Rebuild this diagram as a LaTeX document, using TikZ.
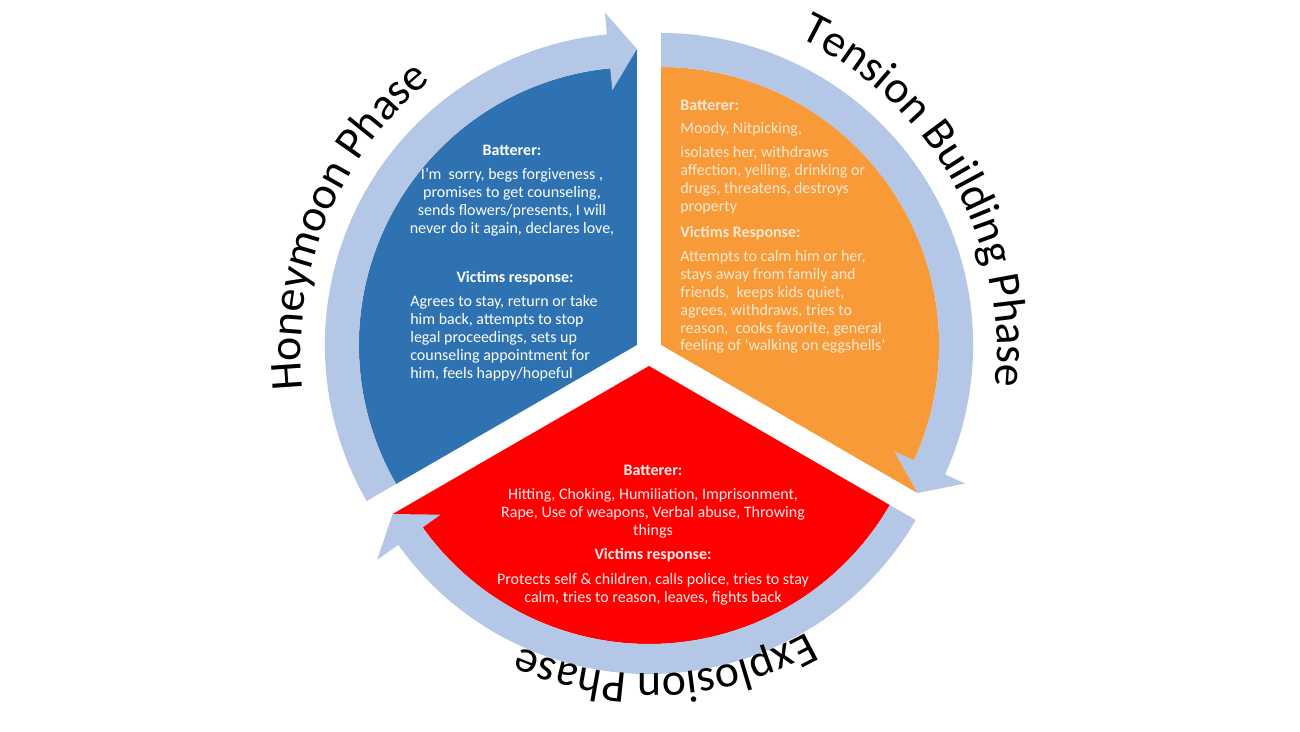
\documentclass[tikz,border=0pt]{standalone}
\usepackage{fontspec}
\setmainfont{Carlito}
\usetikzlibrary{decorations.text}

\definecolor{hmblue}{RGB}{46,114,178}
\definecolor{tborange}{RGB}{248,154,56}
\definecolor{exred}{RGB}{255,0,0}
\definecolor{ringblue}{RGB}{180,199,231}
\definecolor{tbtext}{RGB}{253,232,210}
\definecolor{extext}{RGB}{255,238,238}

\newcommand{\phasefont}{\fontsize{26}{30}\selectfont}

\tikzset{
  body/.style={font=\fontsize{9.1}{10.2}\selectfont, inner sep=0pt},
  head/.style={font=\fontsize{9.1}{10.2}\selectfont\bfseries, inner sep=0pt},
  ring/.style={fill=ringblue},
  phaselabel/.style={decorate, decoration={text along path, text align=center, text={|\phasefont|#1}}}
}

\begin{document}
\begin{tikzpicture}[x=0.02cm, y=0.02cm]
        \useasboundingbox (-649,-379) rectangle (651,352);

        % Honeymoon sector and its arrow
        \begin{scope}[shift={(150:14)}]
            \fill[hmblue] (0,0) -- (210:278) arc[start angle=210, end angle=95.5, radius=278] -- (90:296) -- cycle;
            \fill[ring] (210:278) -- (210:312) arc[start angle=210, end angle=95.5, radius=312] -- (95.5:334) -- (90:296) -- (95.5:256) -- (95.5:278) arc[start angle=95.5, end angle=210, radius=278] -- cycle;
        \end{scope}

        % Tension building sector and its arrow
        \begin{scope}[shift={(30:14)}]
            \fill[tborange] (0,0) -- (90:278) arc[start angle=90, end angle=-24.5, radius=278] -- (-30:296) -- cycle;
            \fill[ring] (90:278) -- (90:312) arc[start angle=90, end angle=-24.5, radius=312] -- (-24.5:334) -- (-30:296) -- (-24.5:256) -- (-24.5:278) arc[start angle=-24.5, end angle=90, radius=278] -- cycle;
        \end{scope}

        % Explosion sector and its arrow
        \begin{scope}[shift={(270:14)}]
            \fill[exred] (0,0) -- (-30:278) arc[start angle=-30, end angle=-144.5, radius=278] -- (-150:296) -- cycle;
            \fill[ring] (-30:278) -- (-30:308) arc[start angle=-30, end angle=-144.5, radius=308] -- (-144.5:334) -- (-150:296) -- (-144.5:256) -- (-144.5:278) arc[start angle=-144.5, end angle=-30, radius=278] -- cycle;
        \end{scope}

        % Texts of the honeymoon phase
        \node[head, white] (hm-bat) at (-137,202) {Batterer:};
        \node[body, white, align=center] (hm-battxt) at (-137,150) {I’m~ sorry, begs forgiveness ,\\ promises to get counseling,\\ sends flowers/presents, I will\\ never do it again, declares love,};
        \node[head, white] (hm-vic) at (-134,74) {Victims response:};
        \node[body, white, align=left, anchor=west] (hm-victxt) at (-239,14) {Agrees to stay, return or take\\ him back, attempts to stop\\ legal proceedings, sets up\\ counseling appointment for\\ him, feels happy/hopeful};

        % Texts of the tension building phase
        \node[head, tbtext, anchor=west] (tb-bat) at (31,247) {Batterer:};
        \node[body, tbtext, anchor=west] (tb-mood) at (31,223) {Moody, Nitpicking,};
        \node[body, tbtext, align=left, anchor=west] (tb-battxt) at (31,172) {isolates her, withdraws\\ affection, yelling, drinking or\\ drugs, threatens, destroys\\ property};
        \node[head, tbtext, anchor=west] (tb-vic) at (31,119) {Victims Response:};
        \node[body, tbtext, align=left, anchor=west] (tb-victxt) at (31,50) {Attempts to calm him or her,\\ stays away from family and\\ friends,~ keeps kids quiet,\\ agrees, withdraws, tries to\\ reason,~ cooks favorite, general\\ feeling of ‘walking on eggshells’};

        % Texts of the explosion phase
        \node[head, extext] (ex-bat) at (4,-118) {Batterer:};
        \node[body, extext, align=center] (ex-battxt) at (4,-161) {Hitting, Choking, Humiliation, Imprisonment,\\ Rape, Use of weapons, Verbal abuse, Throwing\\ things};
        \node[head, extext] (ex-vic) at (4,-203) {Victims response:};
        \node[body, extext, align=center] (ex-victxt) at (4,-237) {Protects self \& children, calls police, tries to stay\\ calm, tries to reason, leaves, fights back};

        % Phase names round the circle
        \path[phaselabel={Honeymoon Phase}] (207.5:348) arc[start angle=207.5, end angle=107.5, radius=348];
        \path[phaselabel={Tension Building Phase}] (79.4:348) arc[start angle=79.4, end angle=-20.6, radius=348];
        \path[phaselabel={Explosion Phase}] (-47:322) arc[start angle=-47, end angle=-127, radius=322];
\end{tikzpicture}
\end{document}
